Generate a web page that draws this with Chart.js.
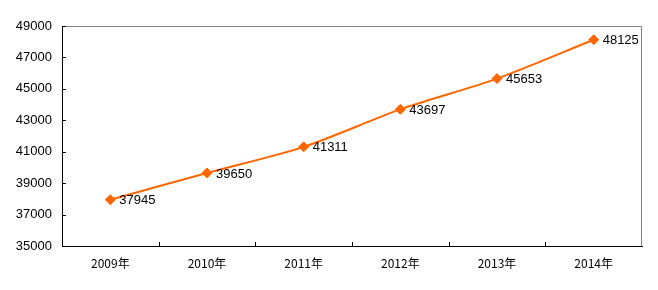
<!DOCTYPE html>
<html>
<head>
<meta charset="utf-8">
<script src="https://cdn.jsdelivr.net/npm/chart.js@4/dist/chart.umd.min.js"></script>
<style>
  html, body { margin: 0; padding: 0; background: #fff; }
  #wrap { width: 658px; height: 290px; position: relative; }
</style>
</head>
<body>
<div id="wrap"><canvas id="chart"></canvas></div>
<script>
// chart data
const years = ['2009年', '2010年', '2011年', '2012年', '2013年', '2014年'];
const values = [37945, 39650, 41311, 43697, 45653, 48125];
const yMin = 35000;
const yMax = 49000;
const yStep = 2000;

const lineColor = '#FF6600';

// frame: gray top/right border plus inside tick marks
const framePlugin = {
  id: 'frame',
  afterDraw(chart) {
    const ctx = chart.ctx;
    const a = chart.chartArea;
    const xs = chart.scales.x;
    const ys = chart.scales.y;
    ctx.save();
    ctx.lineWidth = 1;
    ctx.strokeStyle = '#808080';
    ctx.beginPath();
    ctx.moveTo(a.left, a.top + 0.5);
    ctx.lineTo(a.right - 0.5, a.top + 0.5);
    ctx.lineTo(a.right - 0.5, a.bottom);
    ctx.stroke();

    ctx.strokeStyle = '#000';
    ctx.beginPath();
    ys.ticks.forEach(t => {
      const y = Math.round(ys.getPixelForValue(t.value)) + 0.5;
      ctx.moveTo(a.left, y);
      ctx.lineTo(a.left + 4, y);
    });
    for (let i = 1; i < years.length; i++) {
      const x = Math.round((xs.getPixelForValue(i - 1) + xs.getPixelForValue(i)) / 2) + 0.5;
      ctx.moveTo(x, a.bottom);
      ctx.lineTo(x, a.bottom - 4);
    }
    ctx.stroke();
    ctx.restore();
  }
};

// value labels to the right of each point
const labelPlugin = {
  id: 'valueLabels',
  afterDatasetsDraw(chart) {
    const ctx = chart.ctx;
    const meta = chart.getDatasetMeta(0);
    ctx.save();
    ctx.font = '13px "Liberation Sans", Arial, sans-serif';
    ctx.fillStyle = '#000';
    ctx.textAlign = 'left';
    ctx.textBaseline = 'middle';
    meta.data.forEach((pt, i) => {
      ctx.fillText(String(values[i]), pt.x + 9, pt.y + 1);
    });
    ctx.restore();
  }
};

new Chart(document.getElementById('chart'), {
  type: 'line',
  data: {
    labels: years,
    datasets: [{
      data: values,
      borderColor: lineColor,
      backgroundColor: lineColor,
      borderWidth: 2,
      tension: 0.3,
      pointStyle: 'rectRot',
      pointRadius: 5,
      pointHoverRadius: 5,
      pointBorderWidth: 1
    }]
  },
  options: {
    responsive: true,
    maintainAspectRatio: false,
    animation: false,
    layout: { padding: { top: 26, right: 16, left: 0, bottom: 0 } },
    plugins: {
      legend: { display: false },
      tooltip: { enabled: false }
    },
    scales: {
      x: {
        offset: true,
        afterFit: s => { s.height = 44; },
        grid: { display: true, drawOnChartArea: false, drawTicks: false },
        border: { display: true, color: '#000', width: 1 },
        ticks: {
          padding: 10,
          maxRotation: 0,
          color: '#000',
          font: { family: '"Noto Sans CJK SC", sans-serif', size: 12 }
        }
      },
      y: {
        min: yMin,
        max: yMax,
        afterFit: s => { s.width = 62; },
        grid: { display: true, drawOnChartArea: false, drawTicks: false },
        border: { display: true, color: '#000', width: 1 },
        ticks: {
          stepSize: yStep,
          padding: 10,
          color: '#000',
          font: { family: '"Liberation Sans", Arial, sans-serif', size: 13 },
          callback: v => String(v)
        }
      }
    }
  },
  plugins: [framePlugin, labelPlugin]
});
</script>
</body>
</html>
